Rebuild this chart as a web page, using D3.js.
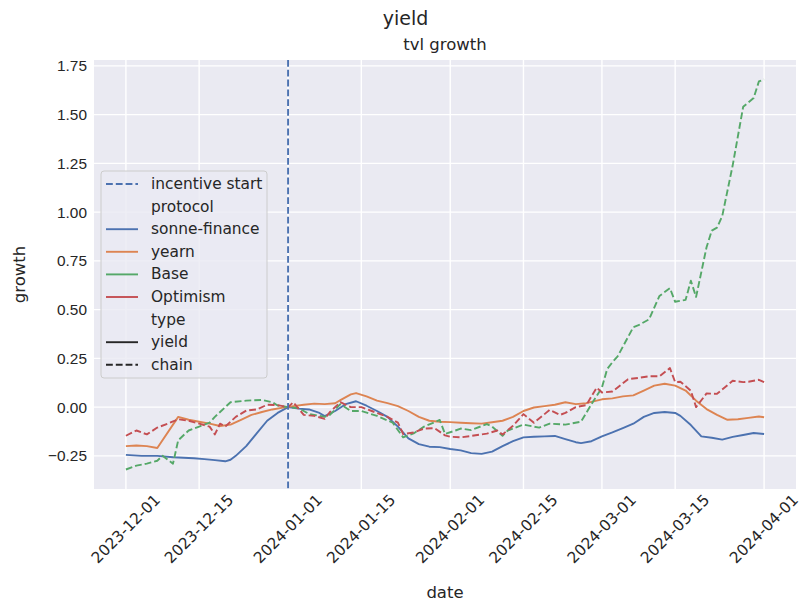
<!DOCTYPE html>
<html>
<head>
<meta charset="utf-8">
<script src="https://cdn.jsdelivr.net/npm/d3@7"></script>
<style>
  body { margin: 0; background: #fff; }
  svg { font-family: "DejaVu Sans", sans-serif; }
</style>
</head>
<body>
<div id="chart"></div>
<script>
// дані
const sonneDates = ["2023-12-01","2023-12-04","2023-12-07","2023-12-10","2023-12-12","2023-12-14","2023-12-16","2023-12-18","2023-12-20","2023-12-21","2023-12-22","2023-12-24","2023-12-26","2023-12-28","2023-12-30","2024-01-01","2024-01-03","2024-01-05","2024-01-07","2024-01-08","2024-01-10","2024-01-12","2024-01-14","2024-01-16","2024-01-18","2024-01-20","2024-01-22","2024-01-24","2024-01-26","2024-01-28","2024-01-30","2024-02-01","2024-02-03","2024-02-05","2024-02-07","2024-02-09","2024-02-11","2024-02-13","2024-02-15","2024-02-17","2024-02-19","2024-02-21","2024-02-23","2024-02-25","2024-02-26","2024-02-28","2024-03-01","2024-03-03","2024-03-05","2024-03-07","2024-03-09","2024-03-11","2024-03-13","2024-03-15","2024-03-16","2024-03-18","2024-03-20","2024-03-22","2024-03-24","2024-03-26","2024-03-28","2024-03-30","2024-04-01"];
const sonneValues = [-0.245,-0.25,-0.25,-0.257,-0.26,-0.262,-0.267,-0.272,-0.278,-0.27,-0.25,-0.2,-0.135,-0.07,-0.03,0.0,-0.008,-0.012,-0.03,-0.046,-0.02,0.015,0.03,0.007,-0.02,-0.05,-0.1,-0.16,-0.19,-0.203,-0.205,-0.215,-0.222,-0.236,-0.24,-0.228,-0.2,-0.175,-0.155,-0.152,-0.15,-0.148,-0.164,-0.18,-0.185,-0.175,-0.15,-0.13,-0.108,-0.085,-0.05,-0.03,-0.025,-0.03,-0.045,-0.092,-0.15,-0.157,-0.167,-0.153,-0.143,-0.133,-0.138];

const yearnDates = ["2023-12-01","2023-12-03","2023-12-05","2023-12-07","2023-12-11","2023-12-13","2023-12-15","2023-12-17","2023-12-19","2023-12-21","2023-12-23","2023-12-25","2023-12-27","2023-12-29","2023-12-31","2024-01-02","2024-01-04","2024-01-06","2024-01-08","2024-01-10","2024-01-11","2024-01-13","2024-01-14","2024-01-16","2024-01-18","2024-01-20","2024-01-22","2024-01-24","2024-01-26","2024-01-28","2024-01-30","2024-02-01","2024-02-03","2024-02-05","2024-02-07","2024-02-09","2024-02-11","2024-02-13","2024-02-15","2024-02-17","2024-02-19","2024-02-21","2024-02-23","2024-02-25","2024-02-27","2024-03-01","2024-03-03","2024-03-05","2024-03-07","2024-03-09","2024-03-11","2024-03-13","2024-03-15","2024-03-17","2024-03-19","2024-03-21","2024-03-23","2024-03-25","2024-03-27","2024-03-29","2024-03-31","2024-04-01"];
const yearnValues = [-0.2,-0.197,-0.2,-0.21,-0.05,-0.065,-0.075,-0.085,-0.097,-0.09,-0.065,-0.04,-0.025,-0.012,-0.003,0.005,0.012,0.018,0.015,0.02,0.036,0.065,0.072,0.055,0.033,0.02,0.005,-0.02,-0.05,-0.07,-0.075,-0.077,-0.08,-0.083,-0.085,-0.078,-0.07,-0.05,-0.02,-0.002,0.005,0.012,0.025,0.015,0.02,0.04,0.045,0.055,0.06,0.085,0.11,0.12,0.11,0.085,0.033,-0.01,-0.04,-0.065,-0.062,-0.055,-0.048,-0.052];

const baseDates = ["2023-12-01","2023-12-03","2023-12-05","2023-12-07","2023-12-08","2023-12-10","2023-12-11","2023-12-13","2023-12-15","2023-12-17","2023-12-18","2023-12-20","2023-12-21","2023-12-24","2023-12-27","2023-12-29","2023-12-30","2024-01-01","2024-01-03","2024-01-05","2024-01-08","2024-01-09","2024-01-11","2024-01-13","2024-01-15","2024-01-18","2024-01-21","2024-01-23","2024-01-25","2024-01-27","2024-01-30","2024-01-31","2024-02-02","2024-02-03","2024-02-05","2024-02-08","2024-02-09","2024-02-11","2024-02-12","2024-02-15","2024-02-18","2024-02-20","2024-02-23","2024-02-26","2024-02-28","2024-03-01","2024-03-02","2024-03-03","2024-03-04","2024-03-07","2024-03-08","2024-03-10","2024-03-12","2024-03-14","2024-03-15","2024-03-17","2024-03-18","2024-03-19","2024-03-21","2024-03-22","2024-03-23","2024-03-24","2024-03-26","2024-03-28","2024-03-30","2024-03-31","2024-04-01"];
const baseValues = [-0.32,-0.3,-0.29,-0.275,-0.25,-0.29,-0.17,-0.12,-0.1,-0.08,-0.05,0.0,0.025,0.033,0.037,0.025,0.008,0.0,-0.005,-0.035,-0.05,-0.04,0.015,-0.02,-0.02,-0.045,-0.08,-0.155,-0.135,-0.1,-0.066,-0.138,-0.12,-0.11,-0.118,-0.087,-0.1,-0.147,-0.12,-0.09,-0.105,-0.085,-0.09,-0.075,0.015,0.1,0.195,0.23,0.26,0.41,0.42,0.45,0.57,0.61,0.54,0.55,0.648,0.565,0.82,0.905,0.92,0.98,1.24,1.54,1.585,1.67,1.68];

const optimismDates = ["2023-12-01","2023-12-03","2023-12-05","2023-12-07","2023-12-09","2023-12-11","2023-12-13","2023-12-15","2023-12-17","2023-12-18","2023-12-19","2023-12-20","2023-12-22","2023-12-24","2023-12-26","2023-12-28","2023-12-30","2024-01-01","2024-01-02","2024-01-04","2024-01-06","2024-01-08","2024-01-09","2024-01-11","2024-01-13","2024-01-15","2024-01-17","2024-01-20","2024-01-22","2024-01-23","2024-01-25","2024-01-27","2024-01-29","2024-01-31","2024-02-01","2024-02-03","2024-02-05","2024-02-08","2024-02-10","2024-02-11","2024-02-13","2024-02-15","2024-02-17","2024-02-20","2024-02-22","2024-02-23","2024-02-25","2024-02-27","2024-02-29","2024-03-01","2024-03-03","2024-03-06","2024-03-08","2024-03-10","2024-03-12","2024-03-14","2024-03-15","2024-03-16","2024-03-18","2024-03-19","2024-03-21","2024-03-23","2024-03-26","2024-03-28","2024-03-29","2024-03-31","2024-04-01"];
const optimismValues = [-0.147,-0.12,-0.14,-0.105,-0.085,-0.062,-0.07,-0.085,-0.1,-0.14,-0.085,-0.1,-0.05,-0.018,-0.012,0.012,0.01,0.0,0.025,-0.04,-0.045,-0.06,-0.025,0.025,0.0,0.0,-0.02,-0.05,-0.08,-0.138,-0.13,-0.11,-0.108,-0.145,-0.152,-0.155,-0.148,-0.136,-0.12,-0.14,-0.096,-0.036,-0.08,-0.015,-0.04,-0.03,0.0,0.01,0.1,0.075,0.08,0.143,0.15,0.158,0.158,0.2,0.128,0.13,0.084,0.0,0.07,0.068,0.135,0.128,0.13,0.14,0.128];

const incentiveStart = "2024-01-01";
const xTickLabels = ["2023-12-01","2023-12-15","2024-01-01","2024-01-15","2024-02-01","2024-02-15","2024-03-01","2024-03-15","2024-04-01"];
const yTickValues = [-0.25, 0, 0.25, 0.5, 0.75, 1.0, 1.25, 1.5, 1.75];

const parse = d3.timeParse("%Y-%m-%d");
const zip = (ds, vs) => ds.map((d, i) => ({ date: parse(d), value: vs[i] }));

const series = [
  { name: "sonne-finance", color: "#4c72b0", dashed: false, points: zip(sonneDates, sonneValues) },
  { name: "yearn", color: "#dd8452", dashed: false, points: zip(yearnDates, yearnValues) },
  { name: "Base", color: "#55a868", dashed: true, points: zip(baseDates, baseValues) },
  { name: "Optimism", color: "#c44e52", dashed: true, points: zip(optimismDates, optimismValues) }
];

const width = 811, height = 611;
const margin = { top: 60, right: 15, bottom: 122, left: 94 };
const lw = 1.9;
const dash = "6.8,3";
const textColor = "#262626";

const svg = d3.select("#chart").append("svg")
  .attr("width", width)
  .attr("height", height);

// межі з відступом 5%, як у matplotlib
const all = series.flatMap(s => s.points);
const [t0, t1] = d3.extent(all, d => d.date);
const tPad = (t1 - t0) * 0.05;
const [v0, v1] = d3.extent(all, d => d.value);
const vPad = (v1 - v0) * 0.05;

const x = d3.scaleTime()
  .domain([new Date(+t0 - tPad), new Date(+t1 + tPad)])
  .range([margin.left, width - margin.right]);

const y = d3.scaleLinear()
  .domain([v0 - vPad, v1 + vPad])
  .range([height - margin.bottom, margin.top]);

// фон
svg.append("rect")
  .attr("x", margin.left)
  .attr("y", margin.top)
  .attr("width", width - margin.left - margin.right)
  .attr("height", height - margin.top - margin.bottom)
  .attr("fill", "#eaeaf2");

// сітка
const grid = svg.append("g");
grid.selectAll(".gx").data(xTickLabels).enter().append("line")
  .attr("x1", d => x(parse(d))).attr("x2", d => x(parse(d)))
  .attr("y1", margin.top).attr("y2", height - margin.bottom)
  .attr("stroke", "#fff").attr("stroke-width", 1.4);
grid.selectAll(".gy").data(yTickValues).enter().append("line")
  .attr("x1", margin.left).attr("x2", width - margin.right)
  .attr("y1", d => y(d)).attr("y2", d => y(d))
  .attr("stroke", "#fff").attr("stroke-width", 1.4);

// осі
const fmt = v => d3.format(".2f")(v).replace("-", "\u2212");
const yAxis = svg.append("g")
  .attr("transform", `translate(${margin.left},0)`)
  .call(d3.axisLeft(y).tickValues(yTickValues).tickFormat(fmt).tickSize(0).tickPadding(7));
yAxis.select(".domain").remove();
yAxis.selectAll("text")
  .style("font-size", "15.4px")
  .attr("fill", textColor);

const xLab = svg.append("g");
xLab.selectAll("text").data(xTickLabels).enter().append("text")
  .attr("transform", d => `translate(${x(parse(d))},${height - margin.bottom + 40}) rotate(-45)`)
  .attr("text-anchor", "middle")
  .attr("dominant-baseline", "central")
  .style("font-size", "15.4px")
  .attr("fill", textColor)
  .text(d => d);

// лінії
const line = d3.line()
  .x(d => x(d.date))
  .y(d => y(d.value));

const plot = svg.append("g");
series.forEach(s => {
  plot.append("path")
    .datum(s.points)
    .attr("d", line)
    .attr("fill", "none")
    .attr("stroke", s.color)
    .attr("stroke-width", lw)
    .attr("stroke-linejoin", "round")
    .attr("stroke-dasharray", s.dashed ? dash : null);
});

// вертикальна лінія початку стимулів
plot.append("line")
  .attr("x1", x(parse(incentiveStart))).attr("x2", x(parse(incentiveStart)))
  .attr("y1", margin.top).attr("y2", height - margin.bottom)
  .attr("stroke", "#4c72b0")
  .attr("stroke-width", lw)
  .attr("stroke-dasharray", dash);

// заголовки
svg.append("text")
  .attr("x", width / 2).attr("y", 25)
  .attr("text-anchor", "middle")
  .style("font-size", "19px")
  .attr("fill", textColor)
  .text("yield");

svg.append("text")
  .attr("x", (margin.left + width - margin.right) / 2).attr("y", 50)
  .attr("text-anchor", "middle")
  .style("font-size", "16.5px")
  .attr("fill", textColor)
  .text("tvl growth");

svg.append("text")
  .attr("x", (margin.left + width - margin.right) / 2).attr("y", 598)
  .attr("text-anchor", "middle")
  .style("font-size", "16.5px")
  .attr("fill", textColor)
  .text("date");

svg.append("text")
  .attr("transform", `translate(25,${(margin.top + height - margin.bottom) / 2}) rotate(-90)`)
  .attr("text-anchor", "middle")
  .style("font-size", "16.5px")
  .attr("fill", textColor)
  .text("growth");

// легенда
const legendItems = [
  { label: "incentive start", color: "#4c72b0", dashed: true },
  { label: "protocol", color: null },
  { label: "sonne-finance", color: "#4c72b0", dashed: false },
  { label: "yearn", color: "#dd8452", dashed: false },
  { label: "Base", color: "#55a868", dashed: false },
  { label: "Optimism", color: "#c44e52", dashed: false },
  { label: "type", color: null },
  { label: "yield", color: textColor, dashed: false },
  { label: "chain", color: textColor, dashed: true }
];

const legend = svg.append("g").attr("transform", "translate(101,171)");
legend.append("rect")
  .attr("width", 166).attr("height", 207)
  .attr("rx", 3)
  .attr("fill", "#eaeaf2").attr("fill-opacity", 0.8)
  .attr("stroke", "#cccccc");

const rowH = 22.6;
legendItems.forEach((it, i) => {
  const cy = 13 + i * rowH;
  if (it.color) {
    legend.append("line")
      .attr("x1", 5).attr("x2", 37)
      .attr("y1", cy).attr("y2", cy)
      .attr("stroke", it.color)
      .attr("stroke-width", lw)
      .attr("stroke-dasharray", it.dashed ? dash : null);
  }
  legend.append("text")
    .attr("x", 50).attr("y", cy)
    .attr("dominant-baseline", "central")
    .style("font-size", "15.4px")
    .attr("fill", textColor)
    .text(it.label);
});
</script>
</body>
</html>
